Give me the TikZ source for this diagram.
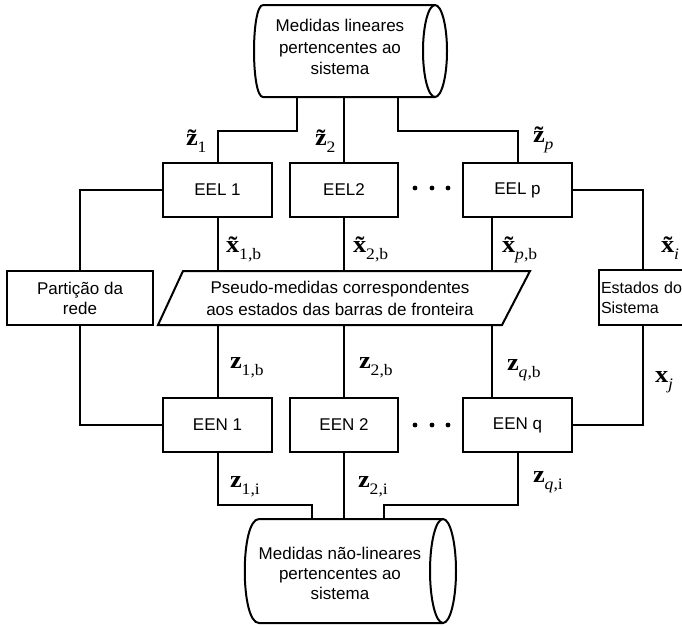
\documentclass[tikz,border=0pt]{standalone}
\usepackage{fontspec}
\setmainfont{Liberation Sans}
\newfontfamily\lblserif[FakeStretch=1.1]{Liberation Serif}
% bold vector symbol with a lowered subscript
\newcommand\vlab[2]{{\lblserif\fontsize{24}{24}\selectfont\bfseries #1}\raisebox{-7pt}{\lblserif\fontsize{16}{16}\selectfont #2}}
\begin{document}
\begin{tikzpicture}[x=1pt,y=-1pt,line width=2pt,
  box/.style={draw,rectangle,inner sep=0pt,minimum height=54pt,
    font=\fontsize{17}{20}\selectfont,align=center},
  estbox/.style={box,minimum width=109pt},
  plain/.style={inner sep=0pt,font=\fontsize{17}{21}\selectfont,align=center},
  vec/.style={inner sep=0pt,anchor=base west}]
\useasboundingbox (0,0) rectangle (682,625);
\clip (0,0) rectangle (682,625);

% data stores (cylinders)
\draw (263,5) -- (435,5) (435,97) -- (263,97) .. controls (251,97) and (251,5) .. (263,5);
\draw (435,51) ellipse [x radius=12pt,y radius=46pt];
\node[plain,font=\fontsize{17}{21.5}\selectfont] (mlin) at (340,47) {Medidas lineares\\pertencentes ao\\sistema};

\draw (259,519) -- (443,519) (443,623) -- (259,623) .. controls (240,623) and (240,519) .. (259,519);
\draw (443,571) ellipse [x radius=13pt,y radius=52pt];
\node[plain,font=\fontsize{17}{20}\selectfont] (mnlin) at (340,573) {Medidas não-lineares\\pertencentes ao\\sistema};

% estimator boxes
\node[estbox] (eel1) at (217.5,190) {EEL 1};
\node[estbox,minimum width=108pt] (eel2) at (344,190) {EEL2};
\node[estbox] (eelp) at (517.5,190) {EEL p};
\node[estbox] (een1) at (217.5,425) {EEN 1};
\node[estbox,minimum width=108pt] (een2) at (344,425) {EEN 2};
\node[estbox] (eenq) at (517.5,425) {EEN q};

\node[box,minimum width=146pt] (part) at (80,298) {Partição da\\rede};
\node[box,anchor=west,minimum height=55pt,text width=96pt,align=left,inner xsep=2pt,
  font=\fontsize{16}{20}\selectfont]
  (est) at (598,297.5) {Estados do\\Sistema};

% pseudo-measurements (parallelogram)
\draw (183,271) -- (530,271) -- (502,325) -- (158,325) -- cycle;
\node[plain,minimum height=54pt,font=\fontsize{17}{22}\selectfont] (pseudo) at (340,298)
  {Pseudo-medidas correspondentes\\aos estados das barras de fronteira};

% ellipsis dots
\foreach \y in {188,425} \foreach \x in {415,432,448} \fill (\x,\y) circle (2.4pt);

% attachment points on the stores and line columns
\coordinate (t1) at (297,97);
\coordinate (t2) at (344,97);
\coordinate (t3) at (398,97);
\coordinate (b1) at (312,519);
\coordinate (b2) at (344,519);
\coordinate (b3) at (384,519);
\coordinate (cp) at (492,0);
\coordinate (rv) at (643,0);

% linear measurements to EEL
\draw (t1) -- (t1 |- 0,131) -| (eel1.north);
\draw (t2) -- (eel2.north);
\draw (t3) -- (t3 |- 0,131) -| (eelp.north);

% EEL to pseudo-measurements to EEN
\draw (eel1.south) -- (eel1.south |- pseudo.north);
\draw (eel2.south) -- (eel2.south |- pseudo.north);
\draw (cp |- eelp.south) -- (cp |- pseudo.north);
\draw (een1.north |- pseudo.south) -- (een1.north);
\draw (een2.north |- pseudo.south) -- (een2.north);
\draw (cp |- pseudo.south) -- (cp |- eenq.north);

% network partition side
\draw (eel1.west) -| (part.north);
\draw (part.south) |- (een1.west);

% system states side
\draw (eelp.east) -| (rv |- est.north);
\draw (rv |- est.south) |- (eenq.east);

% non-linear measurements to EEN
\draw (een1.south) -- (een1.south |- 0,505) -| (b1);
\draw (een2.south) -- (b2);
\draw (eenq.south) -- (eenq.south |- 0,505) -| (b3);

% signal labels
\node[vec] (lz1) at (185,145) {\vlab{\~z}{1}};
\node[vec] (lz2) at (314,145) {\vlab{\~z}{2}};
\node[vec] (lzp) at (532,142) {\vlab{\~z}{\textit{p}}};
\node[vec] (lx1) at (225,252) {\vlab{\~x}{1,b}};
\node[vec] (lx2) at (352,252) {\vlab{\~x}{2,b}};
\node[vec] (lxp) at (501,252) {\vlab{\~x}{\textit{p},b}};
\node[vec] (lxi) at (660,252) {\vlab{\~x}{\textit{i}}};
\node[vec] (lxj) at (654,382) {\vlab{x}{\textit{j}}};
\node[vec] (lz1b) at (229,368) {\vlab{z}{1,b}};
\node[vec] (lz2b) at (358,368) {\vlab{z}{2,b}};
\node[vec] (lzqb) at (506,370) {\vlab{z}{\textit{q},b}};
\node[vec] (lz1i) at (229,487) {\vlab{z}{1,i}};
\node[vec] (lz2i) at (357,487) {\vlab{z}{2,i}};
\node[vec] (lzqi) at (532,482) {\vlab{z}{\textit{q},i}};
\end{tikzpicture}
\end{document}
